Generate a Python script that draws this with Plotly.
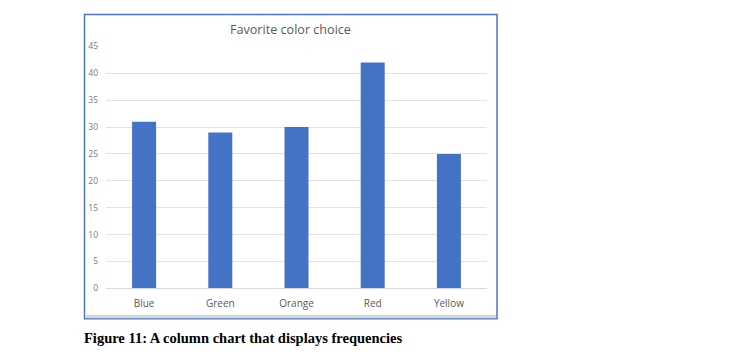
import plotly.graph_objects as go

categories = ["Blue", "Green", "Orange", "Red", "Yellow"]
values = [31, 29, 30, 42, 25]
y_ticks = [0, 5, 10, 15, 20, 25, 30, 35, 40, 45]

W, H = 732, 356
# layout helpers: target screen pixel -> paper fraction
def px(x):
    return (x - 8) / W
def py(y):
    return 1 - ((y - 13.5) / 0.97) / H

fig = go.Figure(go.Bar(
    x=categories, y=values,
    marker=dict(color="#4472C4", line=dict(width=0)),
    hoverinfo="x+y",
))

fig.update_layout(
    width=W, height=H, autosize=False,
    margin=dict(l=0, r=0, t=0, b=0),
    paper_bgcolor="white", plot_bgcolor="white",
    bargap=0.685,
    showlegend=False,
    font=dict(family="Open Sans, Calibri, Carlito, sans-serif", color="#7f7f7f"),
    xaxis=dict(
        domain=[px(106), px(487)],
        showgrid=False, zeroline=False, showline=False,
        ticks="", tickfont=dict(size=10, color="#595959"),
        ticklabelstandoff=8,
    ),
    yaxis=dict(
        domain=[py(288), py(46)],
        range=[0, 45], tickvals=y_ticks,
        showgrid=True, gridcolor="#e2e2e2", gridwidth=1,
        zeroline=True, zerolinecolor="#d9d9d9", zerolinewidth=1,
        showline=False, ticks="",
        tickfont=dict(size=8.5, color="#7a7a7a"),
        ticklabelstandoff=7,
    ),
    shapes=[
        dict(type="rect", xref="paper", yref="paper",
             x0=px(84.5), x1=px(497), y0=py(318.5), y1=py(14),
             line=dict(color="#4a78c8", width=1.5), fillcolor="rgba(0,0,0,0)", layer="below"),
        dict(type="rect", xref="paper", yref="paper",
             x0=px(86), x1=px(496), y0=py(318), y1=py(314.5),
             line=dict(width=0), fillcolor="#d6d6d6", layer="below"),
    ],
    annotations=[
        dict(text="Favorite color choice", xref="paper", yref="paper",
             x=px(290), y=py(29), xanchor="center", yanchor="middle",
             showarrow=False, font=dict(size=12.6, color="#595959",
                                         family="Open Sans, Calibri, Carlito, sans-serif")),
        dict(text="<b>Figure 11: A column chart that displays frequencies</b>",
             xref="paper", yref="paper", x=px(82), y=py(338),
             xanchor="left", yanchor="middle", showarrow=False,
             font=dict(size=14.5, color="#000000",
                       family="Liberation Serif, Times New Roman, serif")),
    ],
)

fig.write_html("out.html")
